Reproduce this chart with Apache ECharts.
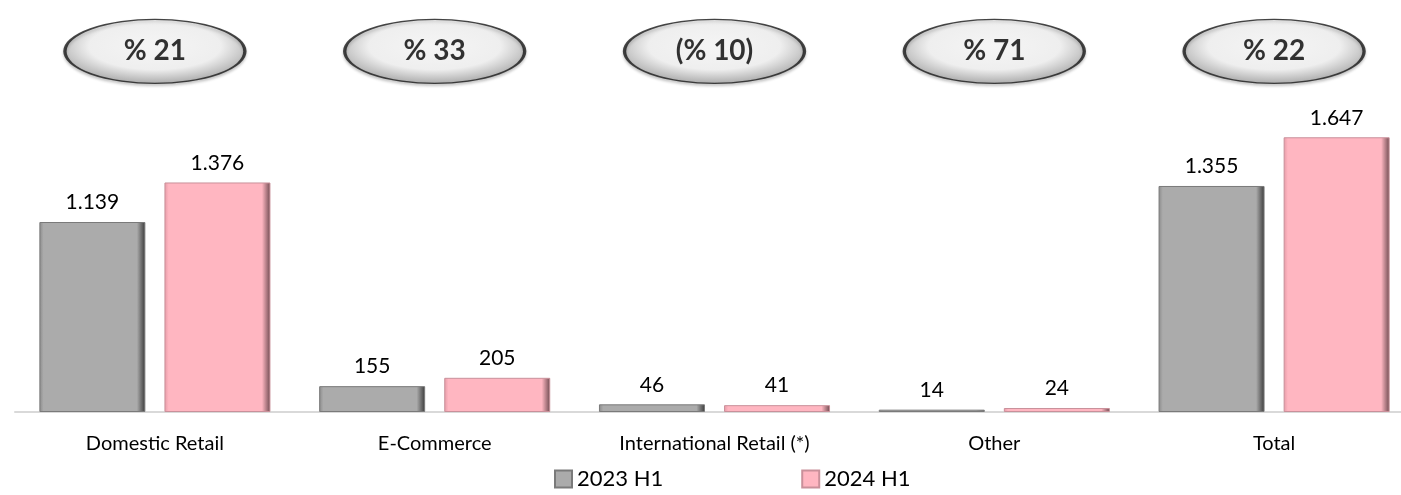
<!DOCTYPE html>
<html>
<head>
<meta charset="utf-8">
<script src="https://cdn.jsdelivr.net/npm/echarts@6/dist/echarts.min.js"></script>
<style>
html,body{margin:0;padding:0;background:#fff;}
#chart{width:1401px;height:495px;}
</style>
</head>
<body>
<div id="chart"></div>
<script>
const categories = ['Domestic Retail', 'E-Commerce', 'International Retail (*)', 'Other', 'Total'];
const values2023 = [1139, 155, 46, 14, 1355];
const values2024 = [1376, 205, 41, 24, 1647];
const growthLabels = ['% 21', '% 33', '(% 10)', '% 71', '% 22'];
const seriesNames = ['2023 H1', '2024 H1'];

const FONT = 'Lato, "DejaVu Sans", sans-serif';

function fmt(v) {
  return String(v).replace(/\B(?=(\d{3})+(?!\d))/g, '.');
}

function barGrad(light, mid, dark) {
  return {
    type: 'linear', x: 0, y: 0, x2: 1, y2: 0,
    colorStops: [
      { offset: 0, color: mid },
      { offset: 0.04, color: light },
      { offset: 0.92, color: light },
      { offset: 1, color: dark }
    ]
  };
}

const chart = echarts.init(document.getElementById('chart'));
chart.setOption({
  animation: false,
  backgroundColor: '#fff',
  grid: { left: 15, right: -13, top: 20, bottom: 83, containLabel: false, outerBoundsMode: 'none' },
  legend: {
    data: seriesNames,
    bottom: 0,
    left: 549,
    icon: 'rect',
    itemWidth: 17,
    itemHeight: 17,
    itemGap: 138,
    textStyle: { fontFamily: FONT, fontSize: 22, color: '#000' }
  },
  xAxis: {
    type: 'category',
    data: categories,
    axisLine: { lineStyle: { color: '#d9d9d9', width: 2 } },
    axisTick: { show: false },
    axisLabel: { fontFamily: FONT, fontSize: 20, color: '#000', margin: 22 }
  },
  yAxis: [
    { type: 'value', min: 0, max: 2350, show: false, splitLine: { show: false } },
    { type: 'value', min: 0, max: 1, show: false, splitLine: { show: false } }
  ],
  series: [
    {
      name: seriesNames[0],
      type: 'bar',
      data: values2023,
      barWidth: 106,
      barGap: '18%',
      itemStyle: {
        color: barGrad('#ababab', '#8a8a8a', '#3a3a3a'),
        borderColor: '#7a7a7a',
        borderWidth: 1
      },
      label: {
        show: true, position: 'top', distance: 9,
        fontFamily: FONT, fontSize: 21, color: '#000',
        formatter: p => fmt(p.value)
      }
    },
    {
      name: seriesNames[1],
      type: 'bar',
      data: values2024,
      barWidth: 106,
      itemStyle: {
        color: barGrad('#ffb6c1', '#e59aa6', '#6e4a50'),
        borderColor: '#c9909a',
        borderWidth: 1
      },
      label: {
        show: true, position: 'top', distance: 9,
        fontFamily: FONT, fontSize: 21, color: '#000',
        formatter: p => fmt(p.value)
      }
    },
    {
      name: 'growth',
      type: 'scatter',
      yAxisIndex: 1,
      clip: false,
      silent: true,
      symbol: 'circle',
      symbolSize: [180, 64],
      data: growthLabels.map((t, i) => ({ value: [categories[i], 0.92], name: t })),
      itemStyle: {
        color: {
          type: 'radial', x: 0.5, y: 0.42, r: 0.6,
          colorStops: [
            { offset: 0, color: '#ffffff' },
            { offset: 0.6, color: '#f7f7f7' },
            { offset: 1, color: '#9a9a9a' }
          ]
        },
        borderColor: '#1a1a1a',
        borderWidth: 2,
        shadowColor: 'rgba(0,0,0,0.25)',
        shadowBlur: 3,
        shadowOffsetY: 2
      },
      label: {
        show: true,
        position: 'inside',
        formatter: p => p.data.name,
        fontFamily: FONT,
        fontWeight: 'bold',
        fontSize: 28,
        color: '#000'
      }
    }
  ]
});
</script>
</body>
</html>
